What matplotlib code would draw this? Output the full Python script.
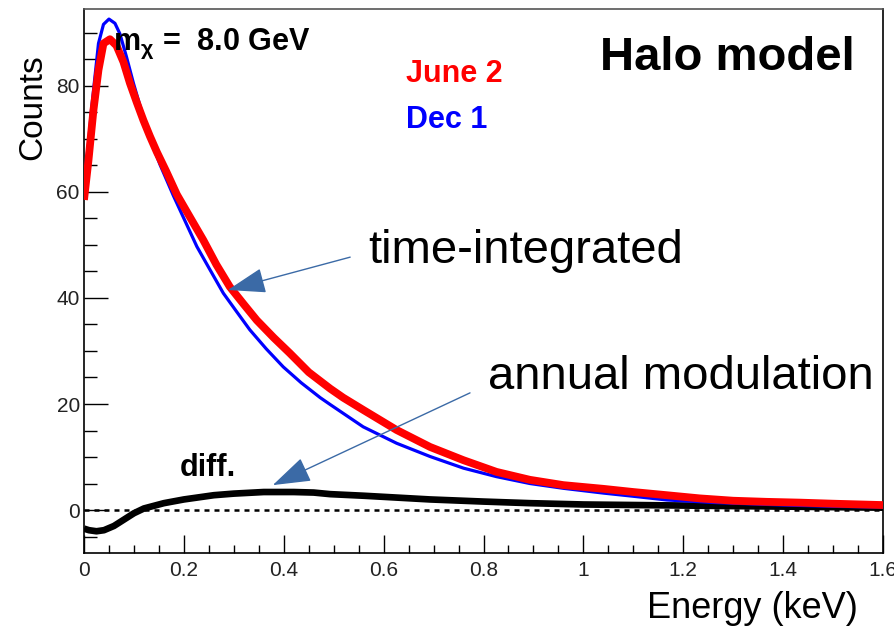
import matplotlib
matplotlib.use("Agg")
import matplotlib.pyplot as plt
from matplotlib.ticker import MultipleLocator

plt.rcParams['font.family'] = ['Liberation Sans', 'DejaVu Sans']
plt.rcParams['mathtext.fontset'] = 'custom'
plt.rcParams['mathtext.rm'] = 'Liberation Sans'
plt.rcParams['mathtext.bf'] = 'Liberation Sans:bold'
plt.rcParams['mathtext.it'] = 'Liberation Sans:bold'

# ---- data ----
june_E = [0.0, 0.009, 0.019, 0.029, 0.039, 0.052, 0.065, 0.079, 0.092, 0.106,
          0.119, 0.132, 0.146, 0.165, 0.186, 0.21, 0.239, 0.265, 0.292, 0.32,
          0.346, 0.38, 0.412, 0.45, 0.493, 0.519, 0.559, 0.626, 0.693, 0.76,
          0.826, 0.893, 0.96, 1.04, 1.1, 1.167, 1.233, 1.3, 1.367, 1.434, 1.5, 1.6]
june_counts = [58.5, 66.0, 75.5, 83.0, 88.0, 88.8, 87.6, 84.5, 80.5, 76.8,
               73.5, 70.5, 67.5, 63.8, 59.5, 55.6, 50.9, 46.3, 42.1, 38.8,
               35.8, 32.5, 29.6, 26.0, 22.9, 21.2, 18.9, 15.1, 11.9, 9.4,
               7.2, 5.7, 4.7, 4.0, 3.4, 2.8, 2.2, 1.76, 1.55, 1.4, 1.2, 0.94]

dec_E = [0.0, 0.009, 0.015, 0.022, 0.029, 0.039, 0.05, 0.062, 0.072, 0.085,
         0.099, 0.112, 0.125, 0.139, 0.152, 0.179, 0.2, 0.226, 0.25, 0.279,
         0.305, 0.332, 0.365, 0.399, 0.435, 0.473, 0.493, 0.559, 0.626, 0.693,
         0.76, 0.826, 0.893, 0.96, 1.04, 1.1, 1.167, 1.267, 1.4, 1.5, 1.6]
dec_counts = [61.6, 69.2, 75.5, 81.8, 88.0, 91.6, 92.6, 91.8, 89.8, 85.5,
              80.5, 76.3, 72.2, 68.4, 65.2, 59.3, 55.0, 49.7, 45.7, 40.9,
              37.5, 34.0, 30.4, 27.0, 24.0, 21.2, 19.9, 15.7, 12.6, 10.1,
              7.9, 6.3, 5.0, 4.1, 3.2, 2.6, 1.9, 1.4, 0.95, 0.7, 0.55]

diff_E = [0.0, 0.01, 0.025, 0.04, 0.06, 0.08, 0.1, 0.12, 0.16, 0.2, 0.26, 0.3,
          0.36, 0.42, 0.46, 0.493, 0.56, 0.693, 0.8, 0.893, 1.0, 1.2, 1.4, 1.6]
diff_counts = [-3.5, -3.8, -4.0, -3.8, -3.0, -1.8, -0.6, 0.3, 1.3, 2.0, 2.8, 3.1,
               3.4, 3.4, 3.3, 3.0, 2.7, 2.0, 1.6, 1.3, 1.05, 0.85, 0.65, 0.45]

x_ticks = [0, 0.2, 0.4, 0.6, 0.8, 1.0, 1.2, 1.4, 1.6]
x_tick_labels = ['0', '0.2', '0.4', '0.6', '0.8', '1', '1.2', '1.4', '1.6']
y_ticks = [0, 20, 40, 60, 80]

# ---- figure ----
W, H = 895, 626
fig = plt.figure(figsize=(W / 100, H / 100), dpi=100)
ax = fig.add_axes([84 / W, (H - 553) / H, (883 - 84) / W, (553 - 9) / H])

ax.axhline(0, color='black', lw=1.8, ls=(0, (2, 2)), zorder=1)
ax.plot(diff_E, diff_counts, color='black', lw=4.8, zorder=2, solid_capstyle='butt')
ax.plot(dec_E, dec_counts, color='#0000ff', lw=2.3, zorder=3)
ax.plot(june_E, june_counts, color='#ff0000', lw=5.6, zorder=4, solid_capstyle='butt')

ax.set_xlim(0, 1.6)
ax.set_ylim(-8.1, 94.5)
ax.set_xticks(x_ticks)
ax.set_xticklabels(x_tick_labels)
ax.set_yticks(y_ticks)
ax.xaxis.set_minor_locator(MultipleLocator(0.05))
ax.yaxis.set_minor_locator(MultipleLocator(5))
ax.tick_params(axis='both', which='both', direction='in', top=False, right=False,
               labelsize=15, labelcolor='#222222', color='black', width=1)
ax.tick_params(axis='x', which='major', length=13, pad=6)
ax.tick_params(axis='x', which='minor', length=6)
ax.tick_params(axis='y', which='major', length=17, pad=3)
ax.tick_params(axis='y', which='minor', length=9)
for s in ['left', 'bottom', 'right']:
    ax.spines[s].set_color('black')
    ax.spines[s].set_linewidth(1.2)
ax.spines['top'].set_color('#555555')
ax.spines['top'].set_linewidth(1.2)

def fy(py):
    return (H - py) / H

fig.text(33 / W, fy(107), 'Counts', rotation=90, ha='center', va='center', fontsize=24)
fig.text(858 / W, fy(608), 'Energy (keV)', ha='right', va='center', fontsize=26)

fig.text(113 / W, fy(50), r'$\mathbf{m}_{\chi}$ =  8.0 GeV', fontsize=22,
         fontweight='bold', va='baseline', ha='left')
fig.text(406 / W, fy(82), 'June 2', color='#ff0000', fontsize=22, fontweight='bold',
         va='baseline', ha='left')
fig.text(406 / W, fy(128), 'Dec 1', color='#0000ff', fontsize=22, fontweight='bold',
         va='baseline', ha='left')
fig.text(600 / W, fy(70), 'Halo model', fontsize=34, fontweight='bold',
         va='baseline', ha='left')
fig.text(180 / W, fy(476), 'diff.', fontsize=22, fontweight='bold',
         va='baseline', ha='left')
fig.text(368 / W, fy(263), 'time-integrated', fontsize=34, va='baseline', ha='left')
fig.text(488 / W, fy(389), 'annual modulation', fontsize=34, va='baseline', ha='left')

arrow_color = '#3b6aa6'
aprops = dict(arrowstyle='-|>,head_length=2.4,head_width=0.8', mutation_scale=10,
              color=arrow_color, lw=1.0, shrinkA=0, shrinkB=0)
ax.annotate('', xy=(0.288, 41.5), xytext=(0.533, 47.7), arrowprops=aprops, zorder=6)
ax.annotate('', xy=(0.378, 4.7), xytext=(0.773, 22.1), arrowprops=aprops, zorder=6)

fig.savefig('out.png', dpi=100)
